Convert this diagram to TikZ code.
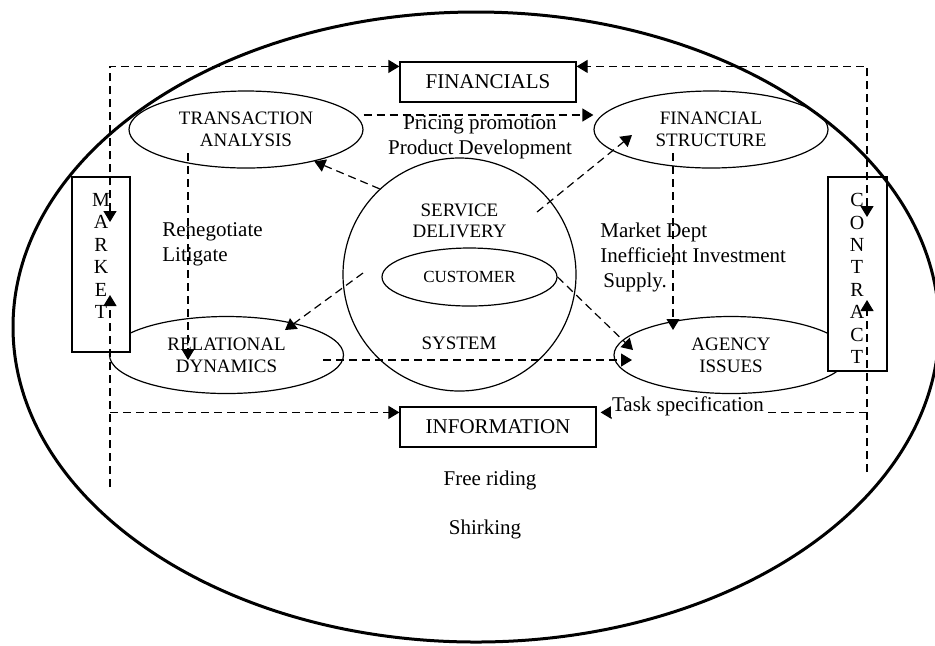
\documentclass[tikz,border=0pt]{standalone}
\usepackage{fontspec}
\setmainfont{Liberation Serif}
\usetikzlibrary{arrows.meta,shapes.geometric}

\begin{document}
\begin{tikzpicture}[
  x=0.5pt, y=-0.5pt,
  font=\fontsize{10.5}{12.5}\selectfont,
  >={Triangle[length=5.5pt,width=6.5pt]},
  box/.style={draw, line width=0.6pt, fill=white, inner sep=0pt, minimum height=20pt},
  oval/.style={draw, ellipse, line width=0.6pt, inner sep=0pt, align=center,
               minimum width=117pt, minimum height=38.5pt, font=\fontsize{9.5}{11}\selectfont},
  note/.style={align=left, inner sep=0pt},
  letters/.style={align=center, inner sep=0pt, anchor=north, font=\fontsize{10}{11.2}\selectfont},
  link/.style={line width=0.6pt, dash pattern=on 4pt off 2.5pt}
]
\useasboundingbox (0,0) rectangle (935,645);
\node[oval] (ta) at (246,129.5) {TRANSACTION\\ANALYSIS};
\node[oval] (fs) at (711,129.5) {FINANCIAL\\STRUCTURE};
\node[oval] (rd) at (226.5,355) {RELATIONAL\\DYNAMICS};
\node[oval] (ai) at (731,355) {AGENCY\\ISSUES};
\node[draw, circle, line width=0.6pt, minimum size=116.5pt, inner sep=0pt] (sd) at (459.5,274.5) {};
\node[oval, minimum width=87.5pt, minimum height=29pt, font=\fontsize{8.5}{10}\selectfont] (cu) at (469.5,277) {CUSTOMER};
\node[align=center, inner sep=0pt, font=\fontsize{9.5}{10.5}\selectfont] (sdtxt) at (459.5,220.5) {SERVICE\\DELIVERY};
\node[inner sep=0pt, font=\fontsize{9.5}{10.5}\selectfont] (sys) at (459,343) {SYSTEM};
\node[box, minimum width=88pt] (fin) at (488,82) {FINANCIALS};
\node[box, minimum width=98pt] (info) at (498,427) {INFORMATION};
\node[box, minimum width=29pt, minimum height=87.5pt] (mkt) at (101,264.5) {};
\node[box, minimum width=29.5pt, minimum height=97pt] (ctr) at (857.5,274) {};
\node[letters] (mkttxt) at (101,193) {M\\A\\R\\K\\E\\T};
\node[letters] (ctrtxt) at (857,193) {C\\O\\N\\T\\R\\A\\C\\T};
\draw[line width=1.5pt] (476,327) ellipse [x radius=231.5pt, y radius=157.5pt];

\coordinate (mkt-in) at (110,222);
\coordinate (mkt-up) at (110,295);
\coordinate (mkt-low) at (110,487);
\coordinate (ctr-in) at (867,217);
\coordinate (ctr-up) at (867,300);
\coordinate (ctr-low) at (867,472);
\coordinate (fin-l) at ([yshift=-2.5pt]fin.north west);
\coordinate (fin-r) at ([yshift=-2.5pt]fin.north east);
\coordinate (info-l) at ([yshift=-3pt]info.north west);
\coordinate (info-r) at ([xshift=2pt,yshift=-3pt]info.north east);
\coordinate (sd-ne) at (537,212);
\coordinate (fs-tip) at (632,135);
\coordinate (sd-w) at (363,273);
\coordinate (rd-tip) at (285,330);
\coordinate (ai-tip) at (633,350);
\coordinate (rd-r) at (323,360);
\coordinate (ai-l) at (632,360);
\coordinate (ta-dn) at (188,153);
\coordinate (fs-dn) at (673,153);
\coordinate (ai-dn) at (673,330);

\draw[link, <->] (mkt-in) |- (fin-l);
\draw[link, ->] (mkt-low) -- (mkt-up);
\draw[link, ->] (mkt-low |- info-l) -- (info-l);
\draw[link, <->] (ctr-in) |- (fin-r);
\draw[link, ->] (ctr-low) -- (ctr-up);
\draw[link, ->] (ctr-low |- info-r) -- (info-r);
\draw[link, ->] ([yshift=7.25pt]ta.east) -- ([yshift=7.25pt]fs.west);
\draw[link, ->] (sd.133) -- (ta.-25);
\draw[link, ->] (sd-ne) -- (fs-tip);
\draw[link, ->] (sd-w) -- (rd-tip);
\draw[link, ->] (cu.east) -- (ai-tip);
\draw[link, ->] (rd-r) -- (ai-l);
\draw[link, ->] (ta-dn) -- (ta-dn |- rd-r);
\draw[link, ->] (fs-dn) -- (ai-dn);

\node[align=center, inner sep=0pt] (price) at (480,137) {Pricing promotion\\Product Development};
\node[note, anchor=west] (reneg) at (162,244.5) {Renegotiate\\Litigate};
\node[note, anchor=west] (mdept) at (600,257) {Market Dept\\Inefficient Investment\\\hspace{1.5pt}Supply.};
\node[fill=white, inner sep=0.5pt] (task) at (688,406) {Task specification};
\node[inner sep=0pt] (free) at (490,480) {Free riding};
\node[inner sep=0pt] (shirk) at (485,529) {Shirking};
\end{tikzpicture}
\end{document}
